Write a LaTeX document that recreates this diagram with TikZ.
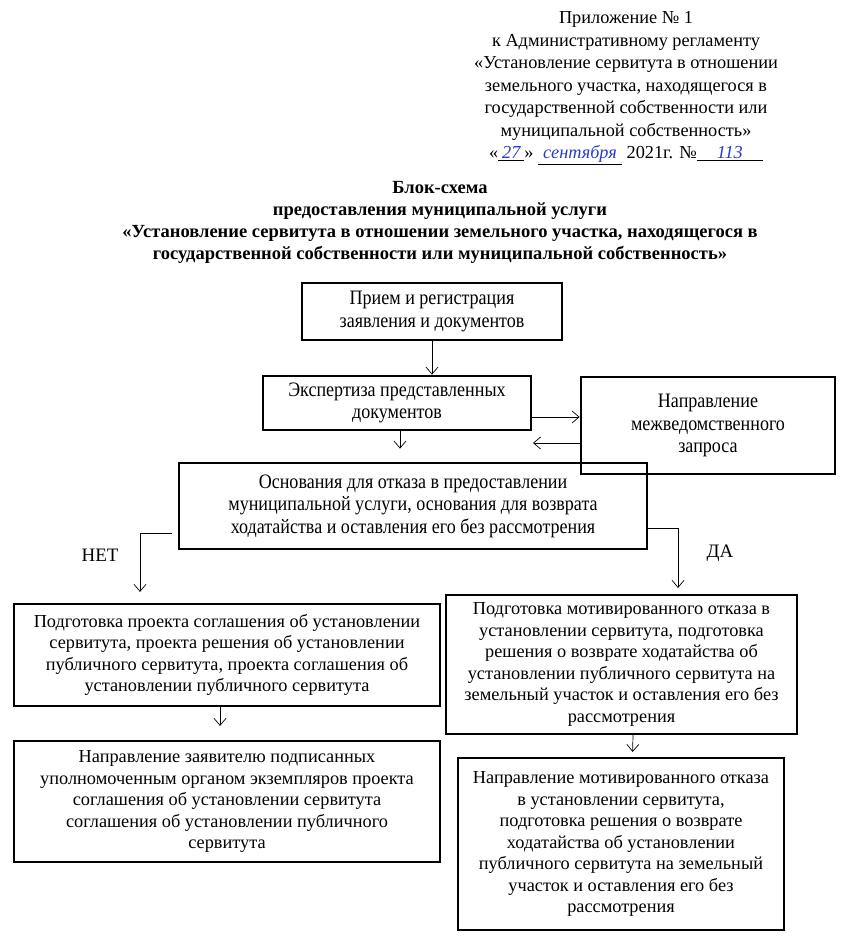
\documentclass[tikz,border=0pt]{standalone}
\usepackage{fontspec}
\setmainfont{Liberation Serif}
\newfontfamily\narrowfont[FakeStretch=0.88]{Liberation Serif}
\usepackage{xcolor}
\usetikzlibrary{arrows.meta, positioning, calc}

\definecolor{inkblue}{RGB}{40,60,200}
\newcommand{\hand}[2]{\underline{\makebox[#1]{\textcolor{inkblue}{\itshape #2}}}}

\begin{document}
\begin{tikzpicture}[x=1pt, y=-1pt,
  box/.style={draw, line width=2.8pt, inner sep=0pt, align=center,
    font=\narrowfont\fontsize{20.5}{22.5}\selectfont},
  lowbox/.style={draw, line width=2.2pt, inner sep=0pt, align=center,
    font=\fontsize{18.3}{21.5}\selectfont},
  arr/.style={-{Straight Barb[length=7pt,width=12pt]}, line width=0.7pt},
  lbl/.style={font=\fontsize{19}{20}\selectfont}]
\useasboundingbox (0,0) rectangle (848,942);

% Header
\node[align=center, font=\fontsize{18.3}{22.5}\selectfont] (prilozh) at (626,88)
  {Приложение № 1\\
   к Административному регламенту\\
   «Установление сервитута в отношении\\
   земельного участка, находящегося в\\
   государственной собственности или\\
   муниципальной собственность»\\
   «\hand{26pt}{27}» \hand{84pt}{сентября} 2021г. №\hand{66pt}{113}};

% Title
\node[align=center, font=\bfseries\fontsize{18.5}{22}\selectfont] (title) at (440,222)
  {Блок-схема\\
   предоставления муниципальной услуги\\
   «Установление сервитута в отношении земельного участка, находящегося в\\
   государственной собственности или муниципальной собственность»};

% Upper boxes
\node[box, minimum width=260, minimum height=57] (priem) at (432,311.5)
  {Прием и регистрация\\заявления и документов};
\node[box, minimum width=268, minimum height=54] (ekspert) at (397,403)
  {Экспертиза представленных\\документов};
\node[box, minimum width=254, minimum height=97] (zapros) at (708,425.5)
  {Направление\\межведомственного\\запроса};
\node[box, minimum width=468, minimum height=86] (osnov) at (413,506)
  {Основания для отказа в предоставлении\\
   муниципальной услуги, основания для возврата\\
   ходатайства и оставления его без рассмотрения};

% Lower boxes
\node[lowbox, minimum width=426, minimum height=102] (proekt) at (227,655)
  {Подготовка проекта соглашения об установлении\\
   сервитута, проекта решения об установлении\\
   публичного сервитута, проекта соглашения об\\
   установлении публичного сервитута};
\node[lowbox, minimum width=351, minimum height=139] (otkaz) at (621.5,664.5)
  {Подготовка мотивированного отказа в\\
   установлении сервитута, подготовка\\
   решения о возврате ходатайства об\\
   установлении публичного сервитута на\\
   земельный участок и оставления его без\\
   рассмотрения};
\node[lowbox, minimum width=426, minimum height=121] (zayavit) at (227,801.5)
  {Направление заявителю подписанных\\
   уполномоченным органом экземпляров проекта\\
   соглашения об установлении сервитута\\
   соглашения об установлении публичного\\
   сервитута};
\node[lowbox, minimum width=326, minimum height=172] (napravl) at (621,844)
  {Направление мотивированного отказа\\
   в установлении сервитута,\\
   подготовка решения о возврате\\
   ходатайства об установлении\\
   публичного сервитута на земельный\\
   участок и оставления его без\\
   рассмотрения};

% Labels
\node[lbl] (net) at (100,555) {НЕТ};
\node[lbl] (da) at (720,553) {ДА};

% Connectors
\coordinate (back) at (533,443);
\draw[arr] (priem.south) -- (ekspert.north -| priem.south);
\draw[arr] ([yshift=-14pt]ekspert.east) -- ([yshift=-14pt]ekspert.east -| zapros.west);
\draw[arr] (zapros.west |- back) -- (back);
\draw[arr, shorten >=13pt] ([xshift=3pt]ekspert.south) -- ([xshift=3pt]ekspert.south |- osnov.north);
\draw[arr, shorten >=11pt] ([xshift=-6pt,yshift=-27pt]osnov.west) -| ([xshift=-87pt]proekt.north);
\draw[arr, shorten >=6pt] ([yshift=-22pt]osnov.east) -| ([xshift=56.5pt]otkaz.north);
\draw[arr, shorten >=14pt] ([xshift=-7pt]proekt.south) -- ([xshift=-7pt]zayavit.north);
\draw[arr, shorten >=5pt] ([xshift=11.5pt]otkaz.south) -- ([xshift=11.5pt]napravl.north);
\end{tikzpicture}
\end{document}
